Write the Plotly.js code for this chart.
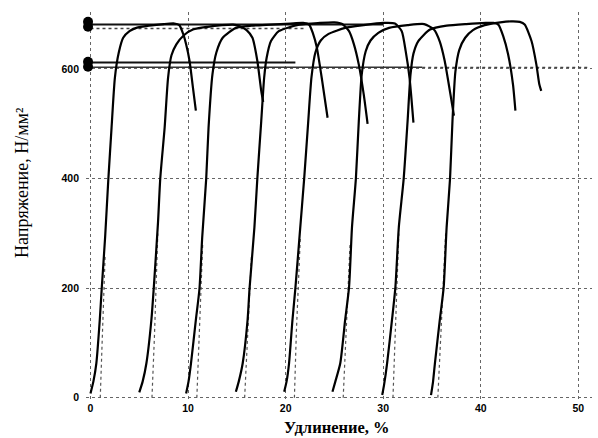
<!DOCTYPE html>
<html>
<head>
<meta charset="utf-8">
<script src="https://cdn.plot.ly/plotly-3.0.1.min.js"></script>
<style>html,body{margin:0;padding:0;background:#fff;}#chart{width:598px;height:438px;}</style>
</head>
<body>
<div id="chart"></div>
<script>
// Stress-strain curves (elongation %, stress N/mm^2)
const c1x = [0, 0.3, 0.6, 0.95, 1.15, 1.5, 1.82, 2.16, 2.5, 2.9, 3.35, 4.0, 4.7, 6.0, 7.5, 8.6, 9.1, 9.5, 9.8, 10.15, 10.5, 10.8];
const c1y = [8, 30, 63, 142, 199, 293, 396, 493, 584, 630, 657, 669, 675, 679, 682, 683, 680, 664, 645, 615, 566, 524];
const c2x = [5.0, 5.35, 5.73, 6.24, 6.48, 6.92, 7.15, 7.6, 7.95, 8.3, 8.8, 9.6, 10.5, 12, 13.5, 14.6, 15.3, 16.0, 16.6, 17.1, 17.5, 17.7];
const c2y = [10, 30, 63, 142, 199, 320, 400, 493, 584, 625, 645, 662, 672, 677, 680, 681, 678, 671, 657, 615, 560, 540];
const c3x = [9.8, 10.05, 10.3, 10.8, 11.17, 11.45, 11.86, 12.1, 12.5, 12.9, 13.55, 14.9, 16.5, 18.5, 20.5, 21.8, 22.4, 22.8, 23.2, 23.75, 24.3];
const c3y = [8, 30, 63, 142, 199, 293, 400, 493, 590, 630, 657, 675, 679, 681, 683, 684, 681, 665, 639, 578, 511];
const c4x = [14.9, 15.2, 15.6, 16.1, 16.3, 16.8, 17.1, 17.5, 17.8, 18.05, 18.5, 19.3, 21.4, 23.5, 25.0, 25.8, 26.5, 27.0, 27.5, 28.0, 28.4];
const c4y = [11, 30, 63, 142, 199, 311, 400, 505, 584, 620, 651, 669, 681, 684, 685, 682, 669, 645, 608, 554, 500];
const c5x = [19.85, 20.1, 20.35, 20.7, 21.0, 21.45, 21.9, 22.3, 22.65, 23.05, 23.6, 24.4, 26.1, 28, 30, 31.2, 31.9, 32.3, 32.7, 33.1];
const c5y = [11, 30, 63, 142, 200, 300, 400, 500, 585, 630, 652, 664, 675, 680, 684, 683, 669, 633, 584, 502];
const c6x = [24.8, 25.1, 25.6, 26.1, 26.5, 26.8, 27.2, 27.5, 27.8, 28.2, 28.7, 29.5, 30.6, 32.5, 34.2, 35.2, 35.8, 36.3, 37.0, 37.25];
const c6y = [11, 30, 63, 142, 202, 311, 400, 505, 590, 632, 652, 666, 675, 680, 682, 672, 650, 615, 542, 515];
const c7x = [29.9, 30.1, 30.4, 30.9, 31.25, 31.6, 32.1, 32.5, 32.8, 33.1, 33.6, 34.8, 36.5, 38.5, 40.5, 41.3, 41.8, 42.3, 42.8, 43.3, 43.55];
const c7y = [5, 25, 63, 142, 202, 311, 400, 505, 590, 628, 651, 672, 679, 682, 684, 684, 681, 660, 627, 572, 524];
const c8x = [34.9, 35.1, 35.3, 35.8, 36.2, 36.5, 36.85, 37.1, 37.4, 37.8, 38.4, 39.2, 40.4, 42.0, 43.1, 44.0, 44.5, 45.2, 45.7, 46.0, 46.2];
const c8y = [5, 28, 63, 142, 202, 311, 400, 505, 595, 635, 657, 671, 680, 685, 687, 686, 681, 651, 608, 572, 560];

// dotted companion traces near the foot of each curve
const d1x = [1.0, 1.2, 1.5];   const d1y = [0, 120, 260];
const d2x = [6.3, 6.55, 6.9];  const d2y = [0, 110, 300];
const d3x = [10.9, 11.15, 11.5]; const d3y = [0, 120, 280];
const d4x = [15.8, 16.1, 16.5]; const d4y = [0, 120, 260];
const d5x = [20.9, 21.1, 21.5]; const d5y = [0, 120, 290];
const d6x = [25.9, 26.2, 26.6]; const d6y = [0, 120, 280];
const d7x = [31.0, 31.2, 31.6]; const d7y = [0, 110, 300];
const d8x = [35.6, 35.9, 36.4]; const d8y = [0, 110, 300];

// horizontal level lines
const h1x = [0, 30];  const h1y = [681, 681];
const h1bx = [0, 22]; const h1by = [674, 674];
const h2x = [0, 21];  const h2y = [612, 612];
const h2bx = [0, 34]; const h2by = [603, 603];
const h2cx = [34, 51]; const h2cy = [603, 603];
// level markers on the stress axis
const mkx = [-0.25, -0.25, -0.25, -0.25]; const mky = [677, 686, 604, 613];

const xTicks = [0, 10, 20, 30, 40, 50];
const yTicks = [0, 200, 400, 600];
const xTitle = 'Удлинение, %';
const yTitle = 'Напряжение, Н/мм²';

const curves = [[c1x,c1y],[c2x,c2y],[c3x,c3y],[c4x,c4y],[c5x,c5y],[c6x,c6y],[c7x,c7y],[c8x,c8y]];
const dots = [[d1x,d1y],[d2x,d2y],[d3x,d3y],[d4x,d4y],[d5x,d5y],[d6x,d6y],[d7x,d7y],[d8x,d8y]];

const traces = [];
dots.forEach(d => traces.push({x:d[0], y:d[1], mode:'lines', line:{color:'#555', width:1.2, dash:'dot'}, hoverinfo:'skip'}));
traces.push({x:h1bx, y:h1by, mode:'lines', line:{color:'#444', width:1.5, dash:'dot'}});
traces.push({x:h2cx, y:h2cy, mode:'lines', line:{color:'#444', width:1.2, dash:'dot'}});
traces.push({x:h1x, y:h1y, mode:'lines', line:{color:'#111', width:2}});
traces.push({x:h2x, y:h2y, mode:'lines', line:{color:'#111', width:2}});
traces.push({x:h2bx, y:h2by, mode:'lines', line:{color:'#333', width:1.5}});
curves.forEach(c => traces.push({x:c[0], y:c[1], mode:'lines', line:{color:'#000', width:2.2, shape:'spline', smoothing:0.6}}));
traces.push({x:mkx, y:mky, mode:'markers', cliponaxis:false, marker:{color:'#000', size:10, symbol:'circle'}});

const layout = {
  width:598, height:438,
  margin:{l:86, r:6, t:12, b:38},
  paper_bgcolor:'#fff', plot_bgcolor:'#fff',
  showlegend:false,
  font:{family:'Liberation Sans, Arial, sans-serif', color:'#000'},
  xaxis:{
    range:[-0.46, 51.4], tickvals:xTicks, ticktext:xTicks.map(String),
    showgrid:true, gridcolor:'#666', griddash:'dot', gridwidth:1,
    zeroline:false, showline:false, ticks:'',
    tickfont:{size:10.5, family:'Liberation Sans, Arial, sans-serif', color:'#000', weight:'bold'}
  },
  yaxis:{
    range:[-4, 704], tickvals:yTicks, ticktext:yTicks.map(String),
    showgrid:true, gridcolor:'#666', griddash:'dot', gridwidth:1,
    zeroline:false, showline:false, ticks:'',
    tickfont:{size:10.5, family:'Liberation Sans, Arial, sans-serif', color:'#000', weight:'bold'},
    ticklabelstandoff:6
  },
  annotations:[
    {text:xTitle, xref:'paper', yref:'paper', x:0.496, y:-0.072, xanchor:'center', yanchor:'middle', showarrow:false,
     font:{family:'Liberation Serif, Times New Roman, serif', size:16.5, color:'#000', weight:'bold'}},
    {text:yTitle, xref:'paper', yref:'paper', x:-0.128, y:0.56, xanchor:'center', yanchor:'middle', textangle:-90, showarrow:false,
     font:{family:'Liberation Serif, Times New Roman, serif', size:18, color:'#000'}}
  ]
};

Plotly.newPlot('chart', traces, layout, {staticPlot:true, displayModeBar:false});
</script>
</body>
</html>
